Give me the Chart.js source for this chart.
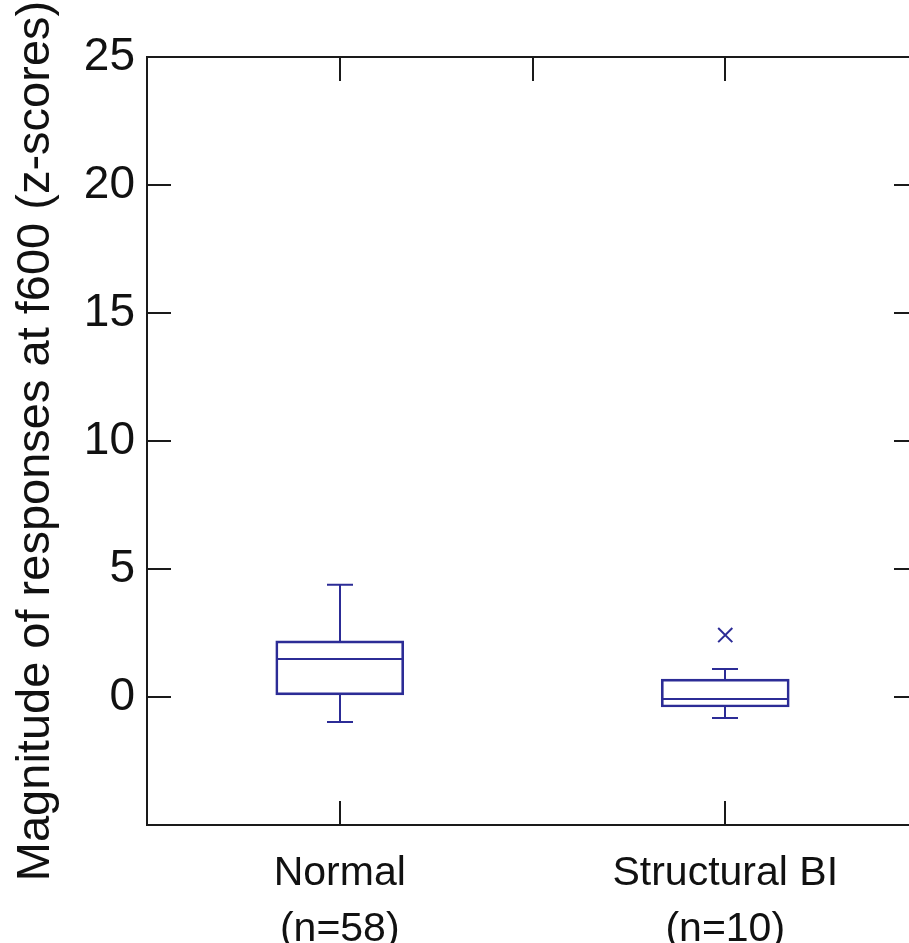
<!DOCTYPE html>
<html>
<head>
<meta charset="utf-8">
<script src="https://cdn.jsdelivr.net/npm/chart.js@4/dist/chart.umd.min.js"></script>
<style>
html, body { margin: 0; padding: 0; background: #fff; overflow: hidden; }
</style>
</head>
<body>
<canvas id="boxChart" width="932" height="943"></canvas>
<script>
const categories = ["Normal", "Structural BI"];
const groupSizes = [58, 10];
const lowerWhisker = [-0.98, -0.82];
const lowerQuartile = [0.08, -0.39];
const medians = [1.48, -0.08];
const upperQuartile = [2.19, 0.70];
const upperWhisker = [4.38, 1.09];
const outliers = [[], [2.42]];
const yTicks = [0, 5, 10, 15, 20, 25];
const topTicks = [1, 1.5, 2];

const boxColor = "#2c2c96";
const frameColor = "#1a1a1a";
const font = "'Liberation Sans', Arial, sans-serif";

// whiskers, caps and medians drawn through the chart scales
const boxParts = {
    id: "boxParts",
    afterDatasetsDraw(chart) {
        const x = chart.scales.x;
        const y = chart.scales.y;
        const ctx = chart.ctx;
        const half = 64;
        const cap = 13;
        ctx.save();
        ctx.strokeStyle = boxColor;
        ctx.lineWidth = 2;
        categories.forEach((c, i) => {
            const cx = Math.round(x.getPixelForValue(i + 1));
            ctx.beginPath();
            ctx.moveTo(cx, y.getPixelForValue(upperQuartile[i]));
            ctx.lineTo(cx, y.getPixelForValue(upperWhisker[i]));
            ctx.moveTo(cx, y.getPixelForValue(lowerQuartile[i]));
            ctx.lineTo(cx, y.getPixelForValue(lowerWhisker[i]));
            ctx.moveTo(cx - cap, y.getPixelForValue(upperWhisker[i]));
            ctx.lineTo(cx + cap, y.getPixelForValue(upperWhisker[i]));
            ctx.moveTo(cx - cap, y.getPixelForValue(lowerWhisker[i]));
            ctx.lineTo(cx + cap, y.getPixelForValue(lowerWhisker[i]));
            ctx.moveTo(cx - half, y.getPixelForValue(medians[i]));
            ctx.lineTo(cx + half, y.getPixelForValue(medians[i]));
            ctx.stroke();
        });
        ctx.restore();
    },
    afterDraw(chart) {
        const a = chart.chartArea;
        const x = chart.scales.x;
        const y = chart.scales.y;
        const ctx = chart.ctx;
        const t = 24;
        ctx.save();
        ctx.strokeStyle = frameColor;
        ctx.lineWidth = 2;
        ctx.strokeRect(a.left, a.top, a.right - a.left, a.bottom - a.top);
        ctx.beginPath();
        yTicks.forEach((v) => {
            const py = Math.round(y.getPixelForValue(v));
            ctx.moveTo(a.left, py);
            ctx.lineTo(a.left + t, py);
            ctx.moveTo(a.right, py);
            ctx.lineTo(a.right - t, py);
        });
        categories.forEach((c, i) => {
            const px = Math.round(x.getPixelForValue(i + 1));
            ctx.moveTo(px, a.bottom);
            ctx.lineTo(px, a.bottom - t);
        });
        topTicks.forEach((v) => {
            const px = Math.round(x.getPixelForValue(v));
            ctx.moveTo(px, a.top);
            ctx.lineTo(px, a.top + t);
        });
        ctx.stroke();
        ctx.restore();
    }
};

const boxData = categories.map((c, i) => ({ x: i + 1, y: [lowerQuartile[i], upperQuartile[i]] }));
const outlierData = [];
outliers.forEach((list, i) => list.forEach((v) => outlierData.push({ x: i + 1, y: v })));

new Chart(document.getElementById("boxChart"), {
    type: "bar",
    data: {
        datasets: [
            {
                label: "box",
                data: boxData,
                backgroundColor: "rgba(0,0,0,0)",
                borderColor: boxColor,
                borderWidth: 2,
                borderSkipped: false,
                barThickness: 128,
            },
            {
                type: "scatter",
                label: "outliers",
                data: outlierData,
                pointStyle: "crossRot",
                radius: 10,
                borderColor: boxColor,
                borderWidth: 2,
            },
        ],
    },
    options: {
        responsive: false,
        animation: false,
        layout: { padding: { top: 57, right: 14, left: 0, bottom: 0 } },
        plugins: { legend: { display: false }, tooltip: { enabled: false } },
        scales: {
            x: {
                type: "linear",
                offset: false,
                min: 0.5,
                max: 2.5,
                grid: { display: false, drawTicks: false, offset: false },
                border: { display: false },
                afterBuildTicks: (s) => { s.ticks = categories.map((c, i) => ({ value: i + 1 })); },
                afterFit: (s) => { s.height = 118; },
                ticks: {
                    autoSkip: false,
                    maxRotation: 0,
                    padding: 21,
                    color: "#111",
                    font: { family: font, size: 41, lineHeight: 1.36 },
                    callback: (v) => [categories[v - 1], `(n=${groupSizes[v - 1]})`],
                },
            },
            y: {
                min: -5,
                max: 25,
                grid: { display: false, drawTicks: false },
                border: { display: false },
                afterBuildTicks: (s) => { s.ticks = yTicks.map((v) => ({ value: v })); },
                afterFit: (s) => { s.width = 147; },
                ticks: {
                    padding: 12,
                    color: "#111",
                    font: { family: font, size: 46 },
                },
                title: {
                    display: true,
                    text: "Magnitude of responses at f600 (z-scores)",
                    color: "#111",
                    font: { family: font, size: 47 },
                    padding: { top: 8, bottom: 0 },
                },
            },
        },
    },
    plugins: [boxParts],
});
</script>
</body>
</html>
